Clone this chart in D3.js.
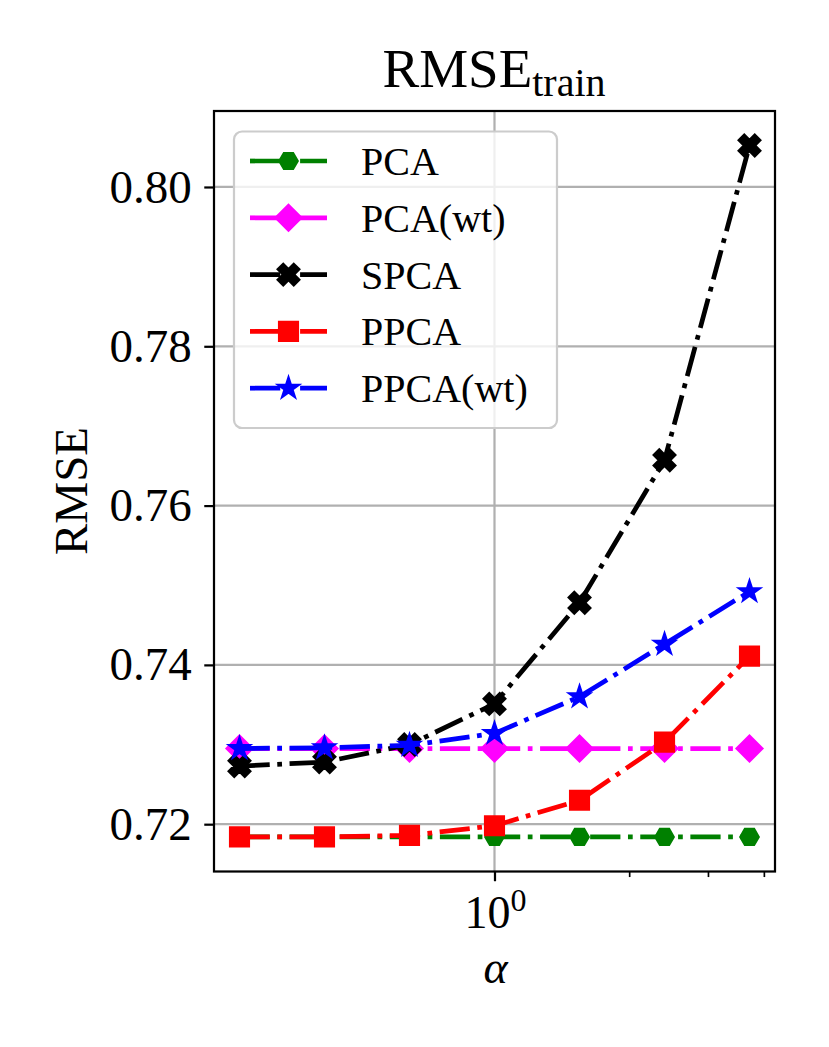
<!DOCTYPE html>
<html>
<head>
<meta charset="utf-8">
<script src="https://cdn.jsdelivr.net/npm/d3@7"></script>
<style>
  body { margin: 0; background: #fff; }
  text { font-family: "Liberation Serif", "Times New Roman", serif; fill: #000; }
</style>
</head>
<body>
<svg id="chart" width="829" height="1047"></svg>
<script>
// values
const alphas = [0.2692, 0.4169, 0.6457, 1, 1.549, 2.399, 3.715];
const seriesNames = ["PCA", "PCA(wt)", "SPCA", "PPCA", "PPCA(wt)"];
const pcaValues = [0.7184, 0.7184, 0.7184, 0.7184, 0.7184, 0.7184, 0.7184];
const pcaWtValues = [0.7295, 0.7295, 0.7295, 0.7295, 0.7295, 0.7295, 0.7295];
const spcaValues = [0.7273, 0.7278, 0.7300, 0.7351, 0.7478, 0.7657, 0.8052];
const ppcaValues = [0.7184, 0.7184, 0.7186, 0.7198, 0.7230, 0.7303, 0.7411];
const ppcaWtValues = [0.7295, 0.7296, 0.7299, 0.7314, 0.7360, 0.7426, 0.7492];
const yTicks = [0.72, 0.74, 0.76, 0.78, 0.80];
const xMajorTicks = [1];
const xMinorTicks = [2, 3, 4];

const allValues = [pcaValues, pcaWtValues, spcaValues, ppcaValues, ppcaWtValues];
const colors = ["#008000", "#ff00ff", "#000000", "#ff0000", "#0000ff"];
const markerTypes = ["hexagon", "diamond", "xfilled", "square", "star"];

const svg = d3.select("#chart");
const MARGIN = { left: 214, right: 775, top: 111, bottom: 871.5 };
const PT = 2.78; // px per point

// matplotlib style 5% padding
const lmin = Math.log10(d3.min(alphas)), lmax = Math.log10(d3.max(alphas));
const lpad = 0.05 * (lmax - lmin);
const x = d3.scaleLog()
  .domain([Math.pow(10, lmin - lpad), Math.pow(10, lmax + lpad)])
  .range([MARGIN.left, MARGIN.right]);

const vmin = d3.min(allValues.flat()), vmax = d3.max(allValues.flat());
const vpad = 0.05 * (vmax - vmin);
const y = d3.scaleLinear()
  .domain([vmin - vpad, vmax + vpad])
  .range([MARGIN.bottom, MARGIN.top]);

// marker shapes (size in px, before edge stroke)
function markerPath(type) {
  if (type === "square") {
    const h = 6.6 * PT / 2;
    return `M${-h},${-h}H${h}V${h}H${-h}Z`;
  }
  if (type === "diamond") {
    const h = 6.4 * PT / Math.SQRT2;
    return `M0,${-h}L${h},0L0,${h}L${-h},0Z`;
  }
  if (type === "hexagon") {
    const r = 6.4 * PT / 2;
    const pts = d3.range(6).map(i => [r * Math.cos(i * Math.PI / 3), r * Math.sin(i * Math.PI / 3)]);
    return "M" + pts.map(p => p.join(",")).join("L") + "Z";
  }
  if (type === "star") {
    const R = 7.2 * PT / 2, r = R * 0.381966;
    const pts = d3.range(10).map(i => {
      const a = -Math.PI / 2 + i * Math.PI / 5;
      const rr = i % 2 === 0 ? R : r;
      return [rr * Math.cos(a), rr * Math.sin(a)];
    });
    return "M" + pts.map(p => p.join(",")).join("L") + "Z";
  }
  // filled X : plus sign rotated 45 degrees
  const u = 8 * PT / 6;
  const plus = [[-1,-3],[1,-3],[1,-1],[3,-1],[3,1],[1,1],[1,3],[-1,3],[-1,1],[-3,1],[-3,-1],[-1,-1]];
  const c = Math.SQRT1_2;
  const pts = plus.map(([a, b]) => [(a * c - b * c) * u, (a * c + b * c) * u]);
  return "M" + pts.map(p => p.join(",")).join("L") + "Z";
}

const lwPt = 1.7;
const lw = lwPt * PT;
const dash = [6.4, 1.6, 1, 1.6].map(d => d * lwPt * PT).join(" ");

// grid
const grid = svg.append("g");
grid.selectAll("line.gy")
  .data(yTicks)
  .join("line")
  .attr("x1", MARGIN.left).attr("x2", MARGIN.right)
  .attr("y1", d => y(d)).attr("y2", d => y(d))
  .style("stroke", "#b0b0b0").style("stroke-width", 0.8 * PT);
grid.selectAll("line.gx")
  .data(xMajorTicks)
  .join("line")
  .attr("x1", d => x(d)).attr("x2", d => x(d))
  .attr("y1", MARGIN.top).attr("y2", MARGIN.bottom)
  .style("stroke", "#b0b0b0").style("stroke-width", 0.8 * PT);

// series
allValues.forEach((vals, k) => {
  const g = svg.append("g");
  g.append("path")
    .attr("d", d3.line().x((d, i) => x(alphas[i])).y(d => y(d))(vals))
    .style("fill", "none")
    .style("stroke", colors[k])
    .style("stroke-width", lw)
    .style("stroke-dasharray", dash)
    .style("stroke-linecap", "butt");
  g.selectAll("path.m")
    .data(vals)
    .join("path")
    .attr("class", "m")
    .attr("d", markerPath(markerTypes[k]))
    .attr("transform", (d, i) => `translate(${x(alphas[i])},${y(d)})`)
    .style("fill", colors[k])
    .style("stroke", colors[k])
    .style("stroke-width", PT)
    .style("stroke-linejoin", "miter");
});

// frame
svg.append("rect")
  .attr("x", MARGIN.left).attr("y", MARGIN.top)
  .attr("width", MARGIN.right - MARGIN.left)
  .attr("height", MARGIN.bottom - MARGIN.top)
  .style("fill", "none").style("stroke", "#000").style("stroke-width", 0.8 * PT);

// y axis
const yAxis = svg.append("g")
  .attr("transform", `translate(${MARGIN.left},0)`)
  .call(d3.axisLeft(y).tickValues(yTicks).tickFormat(d3.format(".2f"))
    .tickSize(3.5 * PT).tickPadding(12.5));
yAxis.select(".domain").remove();
yAxis.selectAll(".tick line").style("stroke-width", 0.8 * PT);
yAxis.selectAll(".tick text")
  .style("font-family", "'Liberation Serif', serif")
  .style("font-size", "47px");

// x axis: major and minor ticks
const xAxis = svg.append("g")
  .attr("transform", `translate(0,${MARGIN.bottom})`)
  .call(d3.axisBottom(x).tickValues(xMajorTicks).tickFormat("").tickSize(3.5 * PT));
xAxis.select(".domain").remove();
xAxis.selectAll(".tick line").style("stroke-width", 0.8 * PT);

const xMinor = svg.append("g")
  .attr("transform", `translate(0,${MARGIN.bottom})`)
  .call(d3.axisBottom(x).tickValues(xMinorTicks).tickFormat("").tickSize(2 * PT));
xMinor.select(".domain").remove();
xMinor.selectAll(".tick line").style("stroke-width", 0.6 * PT);

// 10^0 label
xMajorTicks.forEach(t => {
  const lbl = svg.append("text")
    .attr("x", x(t) + 1)
    .attr("y", 928)
    .style("text-anchor", "middle");
  lbl.append("tspan").style("font-size", "46px").text("10");
  lbl.append("tspan").style("font-size", "32px").attr("dy", -17).text(Math.round(Math.log10(t)));
});

// axis labels and title
svg.append("text")
  .attr("x", x(1) + 1).attr("y", 983)
  .style("text-anchor", "middle")
  .style("font-style", "italic")
  .style("font-size", "46px")
  .text("α");

svg.append("text")
  .attr("transform", `translate(87,491) rotate(-90)`)
  .style("text-anchor", "middle")
  .style("font-size", "47px")
  .text("RMSE");

const title = svg.append("text")
  .attr("x", 494).attr("y", 87)
  .style("text-anchor", "middle");
title.append("tspan").style("font-size", "55px").text("RMSE");
title.append("tspan").style("font-size", "40px").attr("dy", 9).text("train");

// legend
const legend = svg.append("g");
legend.append("rect")
  .attr("x", 234).attr("y", 131.5)
  .attr("width", 323).attr("height", 296.5)
  .attr("rx", 8).attr("ry", 8)
  .style("fill", "#fff").style("fill-opacity", 0.8)
  .style("stroke", "#cccccc").style("stroke-width", 0.8 * PT);

const rows = legend.selectAll("g.row")
  .data(seriesNames)
  .join("g")
  .attr("transform", (d, i) => `translate(0,${161 + i * 56.8})`);
rows.append("line")
  .attr("x1", 250).attr("x2", 327)
  .style("stroke", (d, i) => colors[i])
  .style("stroke-width", lw)
  .style("stroke-dasharray", dash);
rows.append("path")
  .attr("d", (d, i) => markerPath(markerTypes[i]))
  .attr("transform", "translate(288.5,0)")
  .style("fill", (d, i) => colors[i])
  .style("stroke", (d, i) => colors[i])
  .style("stroke-width", PT);
rows.append("text")
  .attr("x", 361).attr("y", 14)
  .style("font-size", "40px")
  .text(d => d);
</script>
</body>
</html>
